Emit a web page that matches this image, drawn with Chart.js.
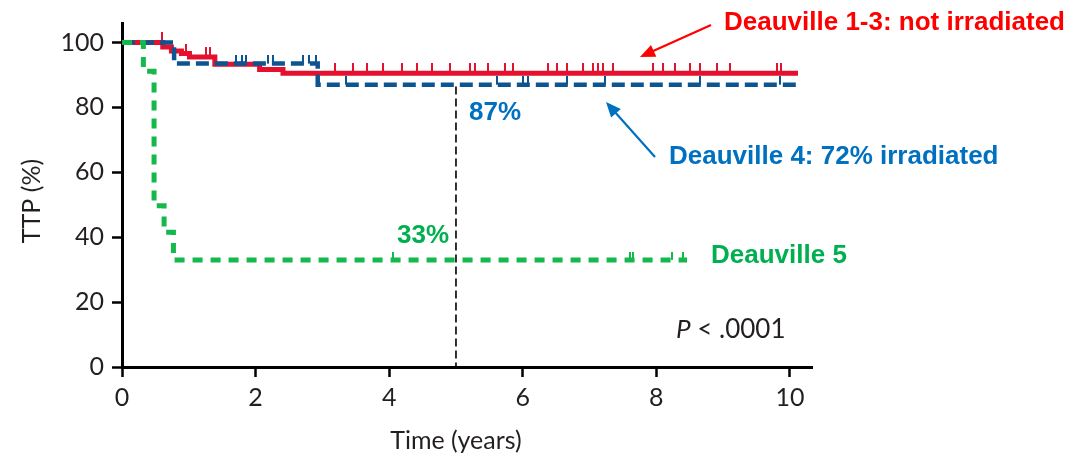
<!DOCTYPE html>
<html>
<head>
<meta charset="utf-8">
<title>TTP by Deauville score</title>
<script src="https://cdn.jsdelivr.net/npm/chart.js@4.4.1/dist/chart.umd.min.js"></script>
<style>
  html, body { margin: 0; padding: 0; background: #ffffff; }
  #wrap { width: 1076px; height: 463px; }
</style>
</head>
<body>
<div id="wrap"><canvas id="km" width="1076" height="463"></canvas></div>
<script>
// Kaplan–Meier steps: event times (years) and TTP (%) after each event
const d13Times  = [0, 0.61, 0.74, 0.89, 1.01, 1.39, 2.06, 2.41, 10.12];
const d13Surv   = [100, 98.6, 97.4, 96.6, 95.5, 93.3, 91.7, 90.5, 90.5];
const d13Censor = [0.60, 0.96, 1.26, 1.31, 3.19, 3.46, 3.67, 3.91, 4.19, 4.42, 4.64, 4.91,
                   5.21, 5.28, 5.48, 5.73, 5.85, 6.38, 6.51, 6.66, 6.90, 7.05, 7.13, 7.20,
                   7.35, 7.95, 8.10, 8.28, 8.50, 8.65, 8.91, 9.10, 9.81, 9.87];

const d4Times  = [0, 0.78, 2.93, 10.10];
const d4Surv   = [100, 93.5, 87, 87];
const d4Censor = [1.71, 1.79, 1.85, 2.18, 2.26, 2.71, 2.80, 2.91,
                  3.35, 5.61, 6.00, 6.08, 6.66, 7.23, 8.65, 9.85];

const d5Times  = [0, 0.32, 0.48, 0.63, 0.77, 8.46];
const d5Surv   = [100, 91.1, 49.7, 41.5, 33, 33];
const d5Censor = [4.06, 7.60, 7.65, 8.23, 8.40];

const landmarkYear = 5;
const xTickValues = [0, 2, 4, 6, 8, 10];
const yTickValues = [0, 20, 40, 60, 80, 100];

const RED = '#e4102e', BLUE = '#0d5591', GREEN = '#14b84c';

// survival level in force at time t
function survAt(times, surv, t) {
  let s = surv[0];
  for (let i = 0; i < times.length; i++) if (times[i] <= t) s = surv[i];
  return s;
}
const stepPoints = (times, surv) => times.map((t, i) => ({ x: t, y: surv[i] }));
const censorPoints = (cens, times, surv) => cens.map(t => ({ x: t, y: survAt(times, surv, t) }));

// censor mark: a short upright tick sitting on top of the curve
function tickMark(color, w, h) {
  const c = document.createElement('canvas');
  c.width = w; c.height = 2 * h;
  const g = c.getContext('2d');
  g.fillStyle = color;
  g.fillRect(0, 0, w, h);
  return c;
}

function arrow(ctx, x1, y1, x2, y2, color) {
  const a = Math.atan2(y2 - y1, x2 - x1);
  const L = 15, W = 6.5;
  ctx.strokeStyle = color; ctx.fillStyle = color; ctx.lineWidth = 2.2;
  ctx.beginPath();
  ctx.moveTo(x1, y1);
  ctx.lineTo(x2 - L * 0.8 * Math.cos(a), y2 - L * 0.8 * Math.sin(a));
  ctx.stroke();
  ctx.beginPath();
  ctx.moveTo(x2, y2);
  ctx.lineTo(x2 - L * Math.cos(a) + W * Math.sin(a), y2 - L * Math.sin(a) - W * Math.cos(a));
  ctx.lineTo(x2 - L * Math.cos(a) - W * Math.sin(a), y2 - L * Math.sin(a) + W * Math.cos(a));
  ctx.closePath();
  ctx.fill();
}

const BOLD = 'bold 26px "Liberation Sans", Arial, sans-serif';
const AXIS_FONT = 'Lato';
const AXIS_COLOR = '#231f20';

const notes = {
  id: 'notes',
  afterDraw(chart) {
    const { ctx, scales: { x, y } } = chart;
    ctx.save();

    // axis titles
    ctx.fillStyle = AXIS_COLOR;
    ctx.font = '25px ' + AXIS_FONT;
    ctx.textAlign = 'center';
    ctx.textBaseline = 'alphabetic';
    ctx.fillText('Time (years)', x.getPixelForValue(5), 449);
    ctx.save();
    ctx.translate(40, (y.top + y.bottom) / 2 + 6);
    ctx.rotate(-Math.PI / 2);
    ctx.fillText('TTP (%)', 0, 0);
    ctx.restore();

    // series labels
    ctx.textAlign = 'left';
    ctx.font = BOLD;
    ctx.fillStyle = '#ff0000';
    ctx.fillText('Deauville 1-3: not irradiated', 724, 30);
    ctx.fillStyle = '#0070c0';
    ctx.fillText('Deauville 4: 72% irradiated', 669, 164);
    ctx.fillText('87%', 469, 120);
    ctx.fillStyle = '#00b050';
    ctx.fillText('Deauville 5', 711, 263);
    ctx.fillText('33%', 397, 243);

    arrow(ctx, 711, 25, 640, 57, '#ff0000');
    arrow(ctx, 655, 157, 606, 102, '#0070c0');

    // log-rank p value
    ctx.fillStyle = AXIS_COLOR;
    ctx.font = 'italic 26px ' + AXIS_FONT;
    ctx.fillText('P', 676, 338);
    const pw = ctx.measureText('P').width;
    ctx.font = '26px ' + AXIS_FONT;
    ctx.fillText(' < .0001', 676 + pw, 338);
    ctx.restore();
  }
};

const axisCommon = {
  type: 'linear',
  grid: { display: true, drawOnChartArea: false, drawTicks: true, tickLength: 10, tickWidth: 2.5, tickColor: '#000' },
  border: { display: true, color: '#000', width: 3 },
};

new Chart(document.getElementById('km'), {
  type: 'line',
  data: {
    datasets: [
      { label: 'Deauville 5 censored', data: censorPoints(d5Censor, d5Times, d5Surv),
        showLine: false, pointStyle: tickMark(GREEN, 2, 8), pointRadius: 3, order: 0 },
      { label: 'Deauville 5', data: stepPoints(d5Times, d5Surv), stepped: 'before',
        borderColor: GREEN, borderWidth: 5, borderDash: [10, 8], pointRadius: 0, order: 1 },
      { label: 'Deauville 4 censored', data: censorPoints(d4Censor, d4Times, d4Surv),
        showLine: false, pointStyle: tickMark(BLUE, 2, 9), pointRadius: 3, order: 2 },
      { label: 'Deauville 4', data: stepPoints(d4Times, d4Surv), stepped: 'before',
        borderColor: BLUE, borderWidth: 4.5, borderDash: [13, 6], pointRadius: 0, order: 3 },
      { label: 'Deauville 1-3 censored', data: censorPoints(d13Censor, d13Times, d13Surv),
        showLine: false, pointStyle: tickMark(RED, 2, 10), pointRadius: 3, order: 4 },
      { label: 'Deauville 1-3', data: stepPoints(d13Times, d13Surv), stepped: 'before',
        borderColor: RED, borderWidth: 5, pointRadius: 0, order: 5 },
      { label: 'landmark', data: [{ x: landmarkYear, y: survAt(d4Times, d4Surv, landmarkYear) - 0.6 }, { x: landmarkYear, y: 0 }],
        borderColor: '#000', borderWidth: 1.6, borderDash: [8, 4], pointRadius: 0, order: 6 }
    ]
  },
  options: {
    responsive: false,
    animation: false,
    events: [],
    layout: { padding: { left: 0, top: 21, right: 264, bottom: 0 } },
    plugins: { legend: { display: false }, tooltip: { enabled: false } },
    scales: {
      x: Object.assign({}, axisCommon, {
        min: 0, max: 10.33,
        afterBuildTicks: s => { s.ticks = xTickValues.map(v => ({ value: v })); },
        afterFit: s => { s.height = 96; },
        ticks: { font: { family: AXIS_FONT, size: 25 }, color: AXIS_COLOR, padding: 6, maxRotation: 0, autoSkip: false }
      }),
      y: Object.assign({}, axisCommon, {
        min: 0, max: 106,
        afterBuildTicks: s => { s.ticks = yTickValues.map(v => ({ value: v })); },
        afterFit: s => { s.width = 122; },
        ticks: { font: { family: AXIS_FONT, size: 25 }, color: AXIS_COLOR, padding: 8, autoSkip: false }
      })
    }
  },
  plugins: [notes]
});
</script>
</body>
</html>
